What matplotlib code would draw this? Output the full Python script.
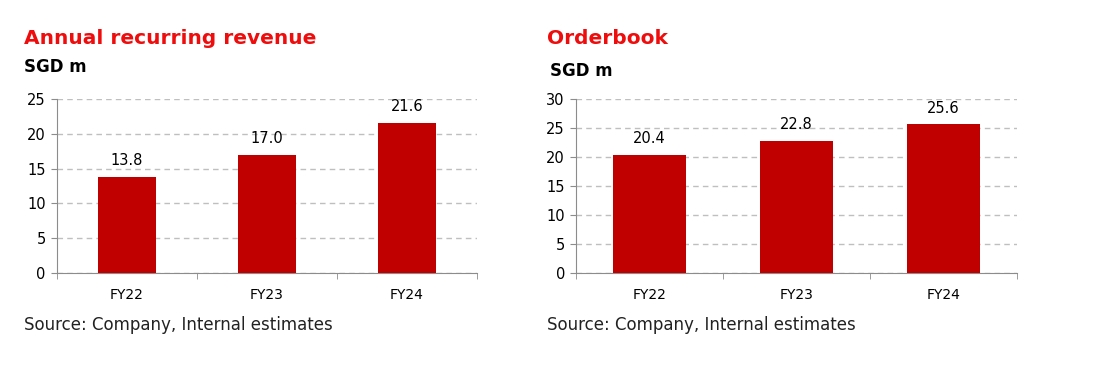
import matplotlib
matplotlib.use("Agg")
import matplotlib.pyplot as plt
import matplotlib.ticker as ticker

# data
years = ["FY22", "FY23", "FY24"]
arr_values = [13.8, 17.0, 21.6]
orderbook_values = [20.4, 22.8, 25.6]

plt.rcParams['font.family'] = ['DejaVu Sans']

BAR = "#C00000"
TITLE_RED = "#EE0C0C"
GRID = "#BFBFBF"
AXIS = "#8C8C8C"

fig = plt.figure(figsize=(10.94, 3.85), dpi=100)


def draw_panel(rect, values, ymax, bar_width):
    ax = fig.add_axes(rect)
    x = list(range(len(years)))
    ax.bar(x, values, width=bar_width, color=BAR, zorder=3)
    ax.set_xlim(-0.5, len(years) - 0.5)
    ax.set_ylim(0, ymax)
    ax.yaxis.set_major_locator(ticker.MultipleLocator(5))
    ax.set_xticks(x)
    ax.set_xticklabels(years, fontsize=10)
    ax.set_xticks([i - 0.5 for i in range(len(years) + 1)], minor=True)
    ax.tick_params(axis="x", which="major", length=0, pad=11)
    ax.tick_params(axis="x", which="minor", length=4, color=AXIS)
    ax.tick_params(axis="y", length=4, color=AXIS, labelsize=10.5, pad=4)
    ax.grid(axis="y", color=GRID, linestyle=(0, (4, 3)), linewidth=1, zorder=0)
    for s in ["top", "right"]:
        ax.spines[s].set_visible(False)
    for s in ["left", "bottom"]:
        ax.spines[s].set_color(AXIS)
    for xi, v in zip(x, values):
        ax.text(xi, v + ymax * 0.05, f"{v:.1f}", ha="center", va="bottom", fontsize=10.5)
    return ax


draw_panel([0.052, 0.291, 0.384, 0.452], arr_values, 25, 0.41)
draw_panel([0.5265, 0.291, 0.403, 0.452], orderbook_values, 30, 0.5)

fig.text(0.022, 0.90, "Annual recurring revenue", color=TITLE_RED, fontsize=14.5,
         fontweight="bold", va="center")
fig.text(0.022, 0.825, "SGD m", fontsize=12, fontweight="bold", va="center")
fig.text(0.5, 0.90, "Orderbook", color=TITLE_RED, fontsize=14.5,
         fontweight="bold", va="center")
fig.text(0.503, 0.815, "SGD m", fontsize=12, fontweight="bold", va="center")

fig.text(0.022, 0.155, "Source: Company, Internal estimates", fontsize=12,
         color="#222222", va="center")
fig.text(0.5, 0.155, "Source: Company, Internal estimates", fontsize=12,
         color="#222222", va="center")

fig.savefig("out.png", dpi=100, facecolor="white")
